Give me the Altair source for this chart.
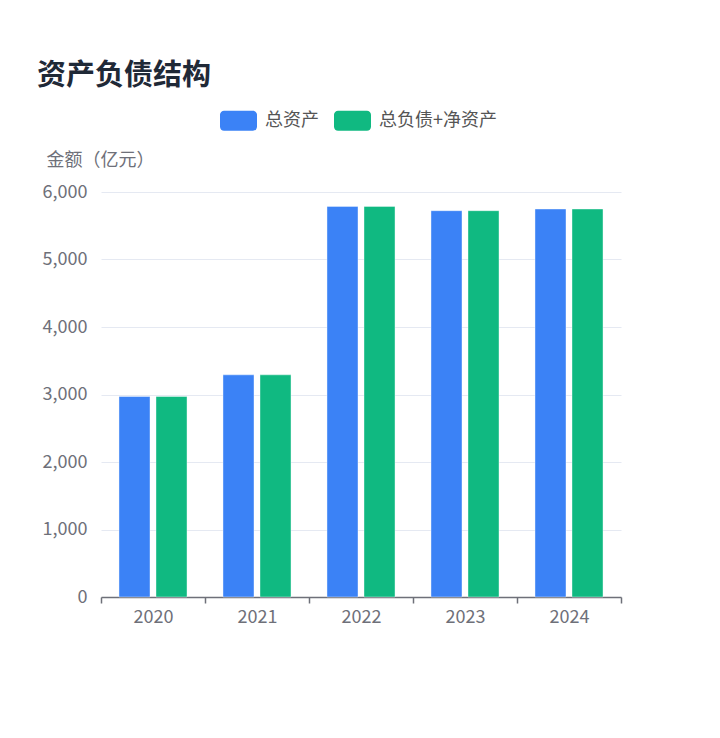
import altair as alt
import pandas as pd

years = ["2020", "2021", "2022", "2023", "2024"]
total_assets = [2970, 3291, 5787, 5723, 5748]
liab_plus_equity = [2970, 3291, 5787, 5723, 5748]
series_names = ["总资产", "总负债+净资产"]
series_colors = ["#3b82f6", "#10b981"]
y_ticks = [0, 1000, 2000, 3000, 4000, 5000, 6000]

rows = []
for y, a, b in zip(years, total_assets, liab_plus_equity):
    rows.append({"year": y, "series": series_names[0], "value": a})
    rows.append({"year": y, "series": series_names[1], "value": b})
df = pd.DataFrame(rows)

FONT = "Noto Sans CJK SC"
round_rect = ("M-0.78,-0.54 L0.78,-0.54 A0.22,0.22 0 0 1 1,-0.32 L1,0.32 "
              "A0.22,0.22 0 0 1 0.78,0.54 L-0.78,0.54 A0.22,0.22 0 0 1 -1,0.32 "
              "L-1,-0.32 A0.22,0.22 0 0 1 -0.78,-0.54 Z")

chart = alt.Chart(df).mark_bar(stroke="white", strokeWidth=0.8, strokeOpacity=0.5).encode(
    x=alt.X("year:N", sort=years,
            scale=alt.Scale(paddingInner=0, paddingOuter=0),
            axis=alt.Axis(title=None, labelAngle=0, labelFontSize=18, labelFont=FONT,
                          labelColor="#6e7079", labelPadding=5,
                          domainColor="#6e7079", domainWidth=1.5,
                          tickColor="#6e7079", tickSize=6, tickWidth=1.5,
                          tickBand="extent", grid=False)),
    xOffset=alt.XOffset("series:N", sort=series_names,
                        scale=alt.Scale(paddingInner=0.162, paddingOuter=0.486)),
    y=alt.Y("value:Q",
            scale=alt.Scale(domain=[0, 6000], nice=False),
            axis=alt.Axis(title="金额（亿元）", titleAngle=0, titleAlign="left",
                          titleBaseline="middle", titleX=-55, titleY=-32,
                          titleFont=FONT, titleFontSize=18, titleFontWeight="normal",
                          titleColor="#6e7079",
                          values=y_ticks, format=",d", labelFontSize=18, labelFont=FONT,
                          labelColor="#6e7079", labelPadding=14, ticks=False,
                          domain=False, grid=True, gridColor="#e5e9f2", gridWidth=1)),
    color=alt.Color("series:N", sort=series_names,
                    scale=alt.Scale(domain=series_names, range=series_colors),
                    legend=alt.Legend(title=None, orient="none", direction="horizontal",
                                      legendX=119, legendY=-90, padding=0,
                                      symbolType=round_rect, symbolSize=1369,
                                      symbolStrokeWidth=0, symbolOpacity=1,
                                      labelFont=FONT, labelFontSize=18, labelColor="#555555",
                                      labelOffset=8, columnPadding=15)),
).properties(
    width=520,
    height=405,
    title=alt.TitleParams("资产负债结构", anchor="start", frame="group", dx=-64, dy=-7,
                          font=FONT, fontSize=29, fontWeight="bold", color="#1f2937"),
    autosize=alt.AutoSizeParams(type="none"),
    padding={"left": 93, "top": 184, "right": 60, "bottom": 100},
).configure_view(stroke=None)

chart.save("out.html", embed_options={"renderer": "svg", "actions": False})
